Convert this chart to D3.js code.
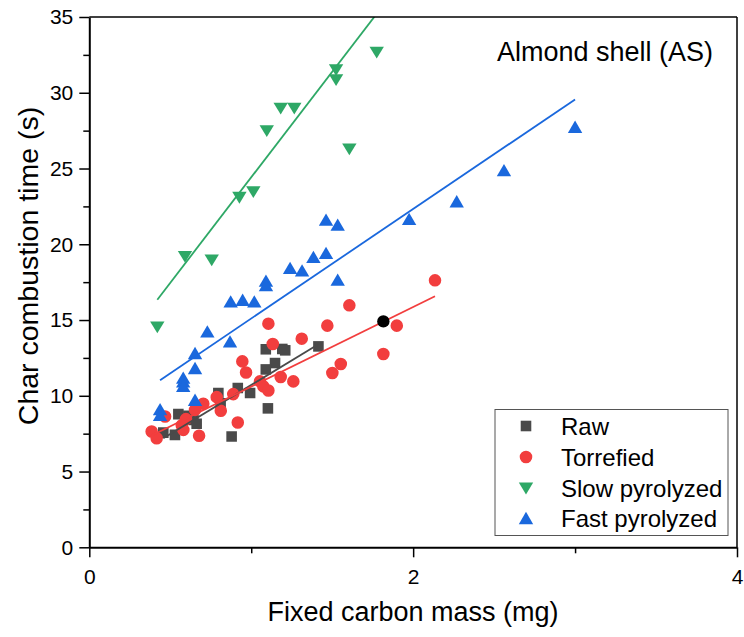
<!DOCTYPE html>
<html>
<head>
<meta charset="utf-8">
<script src="https://cdn.jsdelivr.net/npm/d3@7"></script>
<style>
  html, body { margin: 0; padding: 0; background: #fff; }
  svg { display: block; font-family: "Liberation Sans", Arial, sans-serif; }
</style>
</head>
<body>
<svg id="chart" width="744" height="637"></svg>
<script>
// ---------------- data ----------------
const seriesNames = ["Raw", "Torrefied", "Slow pyrolyzed", "Fast pyrolyzed"];
const seriesColors = ["#4a4a4a", "#f23e3e", "#2ea866", "#1a68dd"];
const seriesSymbols = ["square", "circle", "triangleDown", "triangleUp"];

// Raw
const rawX = [1.415, 1.090, 1.192, 1.210, 1.147, 1.090, 0.993, 0.917, 0.797, 0.811, 1.103, 0.879, 0.550, 0.612, 0.643, 0.663, 0.529, 0.457];
const rawY = [13.26, 13.07, 13.09, 13.00, 12.16, 11.74, 10.18, 10.51, 10.18, 9.50, 9.17, 7.31, 8.79, 8.68, 8.41, 8.15, 7.42, 7.57];

// Torrefied
const torX = [2.135, 1.606, 1.106, 1.470, 1.899, 1.312, 1.133, 1.816, 0.945, 1.553, 0.968, 1.501, 1.182, 1.260, 1.054, 1.075, 1.106, 0.889, 0.787, 0.704, 0.653, 0.812, 0.468, 0.597, 0.917, 0.571, 0.581, 0.385, 0.678, 0.416];
const torY = [17.62, 15.97, 14.76, 14.63, 14.63, 13.77, 13.42, 12.76, 12.27, 12.10, 11.54, 11.50, 11.24, 10.95, 10.95, 10.62, 10.35, 10.11, 9.91, 9.47, 9.07, 9.01, 8.63, 8.46, 8.24, 8.05, 7.75, 7.64, 7.36, 7.20];

// Slow pyrolyzed
const slowX = [1.775, 1.524, 1.524, 1.182, 1.266, 1.096, 1.606, 1.013, 0.927, 0.591, 0.756, 0.420];
const slowY = [32.65, 31.50, 30.84, 28.95, 28.95, 27.47, 26.26, 23.44, 23.07, 19.17, 18.94, 14.51];

// Fast pyrolyzed
const fastX = [3.000, 2.561, 2.269, 1.975, 1.462, 1.534, 1.384, 1.462, 1.240, 1.314, 1.091, 1.091, 1.534, 0.873, 0.947, 1.019, 0.729, 0.869, 0.653, 0.653, 0.580, 0.580, 0.580, 0.653, 0.437, 0.437];
const fastY = [27.76, 24.89, 22.84, 21.68, 21.63, 21.30, 19.17, 19.43, 18.44, 18.28, 17.60, 17.30, 17.67, 16.23, 16.34, 16.23, 14.25, 13.59, 12.82, 11.83, 11.20, 10.95, 10.65, 9.74, 9.12, 8.74];

// Highlighted point (black)
const highlightX = [1.816];
const highlightY = [14.91];

// Linear fits (slope, intercept) per series
const fitSlopes = [6.47, 5.25, 13.93, 7.23];
const fitIntercepts = [4.24, 5.36, 10.49, 7.87];

const xTicks = [0, 1, 2, 3, 4];
const xTickLabels = ["0", "", "2", "", "4"];
const yTicks = [0, 2.5, 5, 7.5, 10, 12.5, 15, 17.5, 20, 22.5, 25, 27.5, 30, 32.5, 35];
const yTickLabels = ["0", "", "5", "", "10", "", "15", "", "20", "", "25", "", "30", "", "35"];

const xTitle = "Fixed carbon mass (mg)";
const yTitle = "Char combustion time (s)";
const annotation = "Almond shell (AS)";

// ---------------- chart ----------------
const svg = d3.select("#chart");
const L = 89.3, R = 737, T = 17, B = 547.3;
const x = d3.scaleLinear().domain([0, 4]).range([L, R]);
const y = d3.scaleLinear().domain([0, 35]).range([B, T]);

const seriesXs = [rawX, torX, slowX, fastX];
const seriesYs = [rawY, torY, slowY, fastY];

// custom triangle symbols (centered on bounding box)
const triUp = { draw(ctx, size) { const w = Math.sqrt(size * 2.3), h = w * 0.86; ctx.moveTo(0, -h/2); ctx.lineTo(w/2, h/2); ctx.lineTo(-w/2, h/2); ctx.closePath(); } };
const triDown = { draw(ctx, size) { const w = Math.sqrt(size * 2.3), h = w * 0.82; ctx.moveTo(0, h/2); ctx.lineTo(w/2, -h/2); ctx.lineTo(-w/2, -h/2); ctx.closePath(); } };
function symbolPath(name) {
  if (name === "square") return d3.symbol().type(d3.symbolSquare).size(112)();
  if (name === "circle") return d3.symbol().type(d3.symbolCircle).size(124)();
  if (name === "triangleUp") return d3.symbol().type(triUp).size(90)();
  return d3.symbol().type(triDown).size(90)();
}

svg.append("defs").append("clipPath").attr("id", "plotclip")
  .append("rect").attr("x", L).attr("y", T).attr("width", R - L).attr("height", B - T);

const plot = svg.append("g").attr("clip-path", "url(#plotclip)");

// markers
seriesNames.forEach((name, i) => {
  const pts = seriesXs[i].map((vx, k) => [vx, seriesYs[i][k]]);
  plot.append("g").selectAll("path").data(pts).join("path")
    .attr("d", symbolPath(seriesSymbols[i]))
    .attr("transform", d => `translate(${x(d[0])},${y(d[1])})`)
    .attr("fill", seriesColors[i]);
});

// fit lines
seriesNames.forEach((name, i) => {
  const ext = d3.extent(seriesXs[i]);
  const line = d3.line().x(d => x(d)).y(d => y(fitIntercepts[i] + fitSlopes[i] * d));
  plot.append("path").datum(ext).attr("d", line)
    .attr("fill", "none").attr("stroke", seriesColors[i]).attr("stroke-width", 1.8);
});

// highlight point
plot.selectAll("circle.hl").data(highlightX.map((v, k) => [v, highlightY[k]])).join("circle")
  .attr("class", "hl").attr("cx", d => x(d[0])).attr("cy", d => y(d[1])).attr("r", 6.2).attr("fill", "#000");

// frame
svg.append("line").attr("x1", L).attr("x2", R).attr("y1", T).attr("y2", T).attr("stroke", "#000").attr("stroke-width", 1.5);
svg.append("line").attr("x1", R).attr("x2", R).attr("y1", T).attr("y2", B).attr("stroke", "#000").attr("stroke-width", 1.5);

// axes
const xAxis = d3.axisBottom(x).tickValues(xTicks).tickFormat((d, k) => xTickLabels[k]).tickSizeOuter(0)
  .tickSize(0);
const gx = svg.append("g").attr("transform", `translate(0,${B})`).call(xAxis);
gx.selectAll(".tick line").attr("y2", (d, k) => xTickLabels[k] ? 10 : 6).attr("stroke", "#000").attr("stroke-width", 1.5);
gx.select(".domain").attr("stroke", "#000").attr("stroke-width", 2);
gx.selectAll(".tick text").attr("y", 22).attr("dy", "0.71em").attr("font-size", 21).attr("fill", "#000")
  .attr("font-family", "Liberation Sans, Arial, sans-serif");

const yAxis = d3.axisLeft(y).tickValues(yTicks).tickFormat((d, k) => yTickLabels[k]).tickSizeOuter(0).tickSize(0);
const gy = svg.append("g").attr("transform", `translate(${L},0)`).call(yAxis);
gy.selectAll(".tick line").attr("x2", (d, k) => yTickLabels[k] ? -10 : -6).attr("stroke", "#000").attr("stroke-width", 1.5);
gy.select(".domain").attr("stroke", "#000").attr("stroke-width", 2);
gy.selectAll(".tick text").attr("x", -16).attr("font-size", 21).attr("fill", "#000")
  .attr("font-family", "Liberation Sans, Arial, sans-serif");

// titles
svg.append("text").attr("x", 413).attr("y", 621).attr("text-anchor", "middle")
  .attr("font-size", 27).attr("fill", "#000").text(xTitle);
svg.append("text").attr("transform", `translate(38,266) rotate(-90)`).attr("text-anchor", "middle")
  .attr("font-size", 28.5).attr("fill", "#000").text(yTitle);

svg.append("text").attr("x", 713).attr("y", 61).attr("text-anchor", "end")
  .attr("font-size", 27).attr("fill", "#000").text(annotation);

// legend
const lg = svg.append("g");
lg.append("rect").attr("x", 495).attr("y", 409.5).attr("width", 233).attr("height", 126)
  .attr("fill", "#fff").attr("stroke", "#555").attr("stroke-width", 1);
const rowY = [426, 457, 488.5, 518];
seriesNames.forEach((name, i) => {
  lg.append("path").attr("d", symbolPath(seriesSymbols[i]))
    .attr("transform", `translate(526,${rowY[i]})`).attr("fill", seriesColors[i]);
  lg.append("text").attr("x", 561).attr("y", rowY[i]).attr("dy", "0.36em")
    .attr("font-size", 24).attr("fill", "#000").text(name);
});
</script>
</body>
</html>
